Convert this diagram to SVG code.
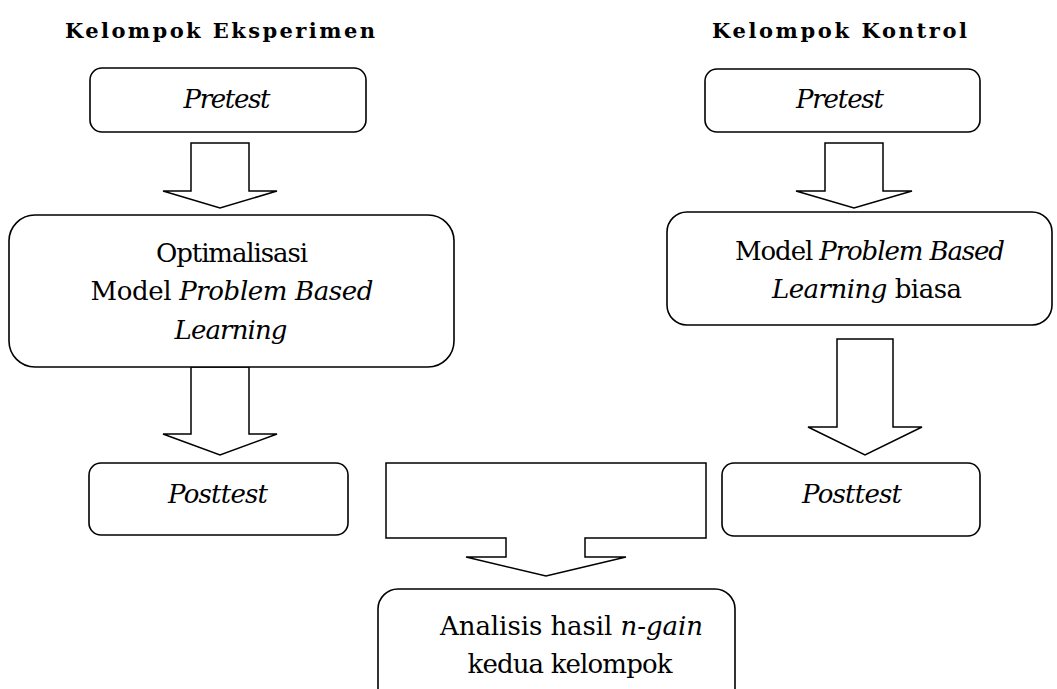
<svg xmlns="http://www.w3.org/2000/svg" width="1057" height="689" viewBox="0 0 1057 689">
<style>
.box{fill:#fff;stroke:#000;stroke-width:1.6}
.arr{fill:#fff;stroke:#000;stroke-width:1.5;stroke-linejoin:miter}
.t{font-size:26px}
.h{font-size:21px;font-weight:bold}
.i{font-style:italic}
</style>
<rect width="1057" height="689" fill="#fff"/>
<g font-family="DejaVu Serif, serif" fill="#000">
<g id="header-left"><text class="h" x="65" y="38" textLength="310" lengthAdjust="spacing">Kelompok Eksperimen</text></g>
<g id="header-right"><text class="h" x="712" y="38" textLength="255" lengthAdjust="spacing">Kelompok Kontrol</text></g>
<g id="connectors">
<path class="arr" d="M191,143 H249 V191 H277 L220,208 L163,191 H191 Z"/>
<path class="arr" d="M191,367 H249 V434 H277 L220,455 L163,434 H191 Z"/>
<path class="arr" d="M825,143 H883 V191 H912 L854,208 L796,191 H825 Z"/>
<path class="arr" d="M837,339 H893 V427 H922 L865,455 L808,427 H837 Z"/>
<path class="arr" d="M386,463 H706 V538 H585 V557 H626 L546,576 L466,557 H506 V538 H386 Z"/>
</g>
<g id="pretest-eksperimen"><rect class="box" x="90" y="68" width="276" height="64" rx="12"/><text class="t i" x="227" y="108" text-anchor="middle" textLength="87">Pretest</text></g>
<g id="optimalisasi"><rect class="box" x="9" y="215" width="445" height="152" rx="26"/>
<text class="t" x="232" y="262" text-anchor="middle" textLength="152">Optimalisasi</text>
<text class="t" x="232" y="300" text-anchor="middle" textLength="283">Model <tspan class="i">Problem Based</tspan></text>
<text class="t i" x="231" y="339" text-anchor="middle" textLength="113">Learning</text></g>
<g id="posttest-eksperimen"><rect class="box" x="89" y="463" width="259" height="72" rx="12"/><text class="t i" x="218" y="503" text-anchor="middle" textLength="100">Posttest</text></g>
<g id="pretest-kontrol"><rect class="box" x="705" y="69" width="275" height="63" rx="12"/><text class="t i" x="840" y="108" text-anchor="middle" textLength="88">Pretest</text></g>
<g id="pbl-biasa"><rect class="box" x="667" y="212" width="385" height="113" rx="20"/>
<text class="t" x="870" y="260" text-anchor="middle" textLength="270">Model <tspan class="i">Problem Based</tspan></text>
<text class="t" x="867" y="298" text-anchor="middle" textLength="190"><tspan class="i">Learning</tspan> biasa</text></g>
<g id="posttest-kontrol"><rect class="box" x="722" y="463" width="258" height="73" rx="12"/><text class="t i" x="852" y="503" text-anchor="middle" textLength="100">Posttest</text></g>
<g id="analisis"><rect class="box" x="378" y="589" width="357" height="120" rx="20"/>
<text class="t" x="440" y="635" textLength="263" lengthAdjust="spacing">Analisis hasil <tspan class="i">n-gain</tspan></text>
<text class="t" x="570" y="673" text-anchor="middle" textLength="205">kedua kelompok</text></g>
</g>
</svg>
